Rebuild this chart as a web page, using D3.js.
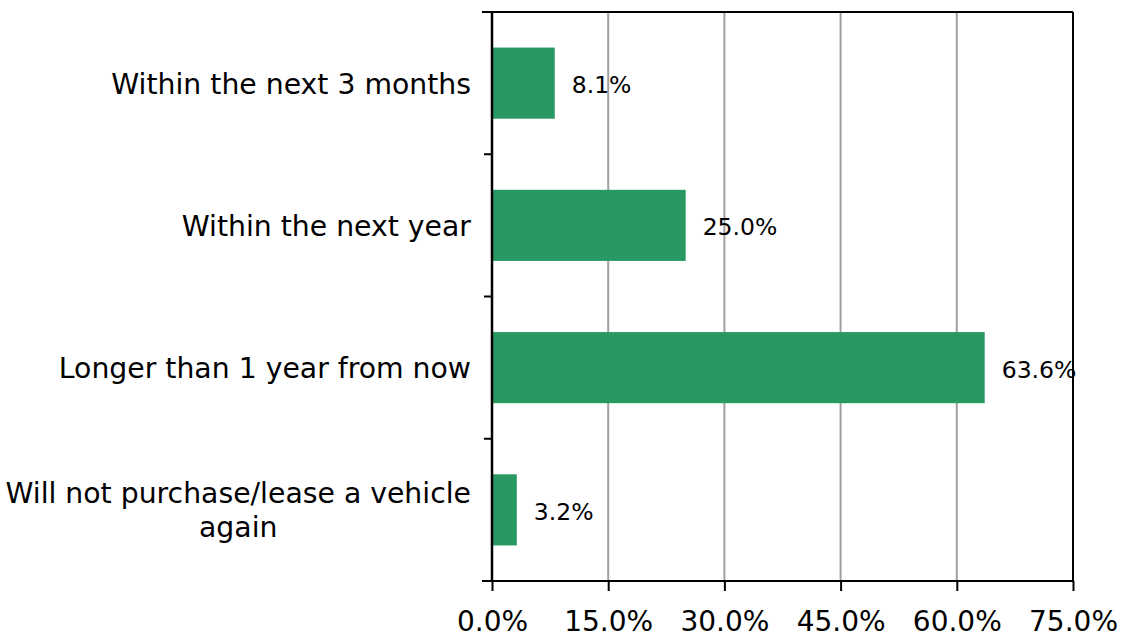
<!DOCTYPE html>
<html>
<head>
<meta charset="utf-8">
<script src="https://cdn.jsdelivr.net/npm/d3@7"></script>
<style>
  body { margin: 0; background: #fff; }
  text { font-family: "DejaVu Sans", Verdana, sans-serif; fill: #000; }
</style>
</head>
<body>
<svg id="grafico" width="1128" height="638"></svg>
<script>
const categories = [
    "Within the next 3 months",
    "Within the next year",
    "Longer than 1 year from now",
    "Will not purchase/lease a vehicle again"
];
const values = [8.1, 25.0, 63.6, 3.2];
const xTicks = [0, 15, 30, 45, 60, 75];

const margin = { top: 12, right: 55, bottom: 57, left: 492 };
const width = 1128 - margin.left - margin.right;
const height = 638 - margin.top - margin.bottom;

const svg = d3.select("#grafico")
    .append("g")
    .attr("transform", `translate(${margin.left}, ${margin.top})`);

const xScale = d3.scaleLinear().domain([0, 75]).range([0, width]);
const yScale = d3.scaleBand().domain(categories).range([0, height]).paddingInner(0.5).paddingOuter(0.25);
const band = d3.scaleBand().domain(categories).range([0, height]);

// gridlines
svg.selectAll("line.grid")
    .data(xTicks.slice(1, -1))
    .enter()
    .append("line")
    .attr("x1", d => xScale(d))
    .attr("x2", d => xScale(d))
    .attr("y1", 0)
    .attr("y2", height)
    .attr("stroke", "#a0a0a0")
    .attr("stroke-width", 2);

// bars
svg.selectAll("rect")
    .data(values)
    .enter()
    .append("rect")
    .attr("x", 0)
    .attr("y", (d, i) => yScale(categories[i]))
    .attr("width", d => xScale(d))
    .attr("height", yScale.bandwidth())
    .attr("fill", "#289962");

// frame top + right
svg.append("line").attr("x1", -10).attr("x2", width).attr("y1", 0).attr("y2", 0)
    .attr("stroke", "#000").attr("stroke-width", 2);
svg.append("line").attr("x1", width).attr("x2", width).attr("y1", 0).attr("y2", height)
    .attr("stroke", "#000").attr("stroke-width", 2);

// x axis
const xAxis = d3.axisBottom(xScale)
    .tickValues(xTicks)
    .tickFormat(d => d.toFixed(1) + "%")
    .tickSize(10)
    .tickPadding(20)
    .tickSizeOuter(0);
const gx = svg.append("g")
    .attr("transform", `translate(0, ${height})`)
    .call(xAxis);
gx.select(".domain").attr("stroke", "#000").attr("stroke-width", 2).attr("d", `M-10,0H${width}`);
gx.selectAll(".tick line").attr("stroke", "#000").attr("stroke-width", 2);
gx.selectAll(".tick text").style("font-size", "28px").attr("fill", "#000");

// y axis: line and boundary ticks
svg.append("line").attr("x1", 0).attr("x2", 0).attr("y1", 0).attr("y2", height)
    .attr("stroke", "#000").attr("stroke-width", 2.5);
svg.selectAll("line.ytick")
    .data(d3.range(categories.length + 1))
    .enter()
    .append("line")
    .attr("x1", -8)
    .attr("x2", 0)
    .attr("y1", i => i * band.bandwidth())
    .attr("y2", i => i * band.bandwidth())
    .attr("stroke", "#000")
    .attr("stroke-width", 2);

// category labels
const maxLabel = 480;
svg.selectAll("g.cat")
    .data(categories)
    .enter()
    .append("g")
    .each(function (d) {
        const g = d3.select(this);
        const t = g.append("text").style("font-size", "28.3px").text(d);
        let lines = [d];
        if (t.node().getComputedTextLength() > maxLabel - 10) {
            const words = d.split(" ");
            lines = [words.slice(0, -1).join(" "), words[words.length - 1]];
        }
        t.remove();
        const cy = band(d) + band.bandwidth() / 2;
        const lh = 34;
        const widths = [];
        const texts = lines.map((l, k) => {
            const tt = g.append("text")
                .style("font-size", "28.3px")
                .attr("y", cy + 10.5 + (k - (lines.length - 1) / 2) * lh)
                .text(l);
            widths.push(tt.node().getComputedTextLength());
            return tt;
        });
        const maxW = d3.max(widths);
        texts.forEach(tt => {
            tt.attr("text-anchor", "middle").attr("x", -21 - maxW / 2);
        });
    });

// value labels
svg.selectAll("text.val")
    .data(values)
    .enter()
    .append("text")
    .attr("class", "val")
    .attr("x", d => xScale(d) + 17)
    .attr("y", (d, i) => yScale(categories[i]) + yScale.bandwidth() / 2 + 10)
    .style("font-size", "23.5px")
    .text(d => d.toFixed(1) + "%");
</script>
</body>
</html>
